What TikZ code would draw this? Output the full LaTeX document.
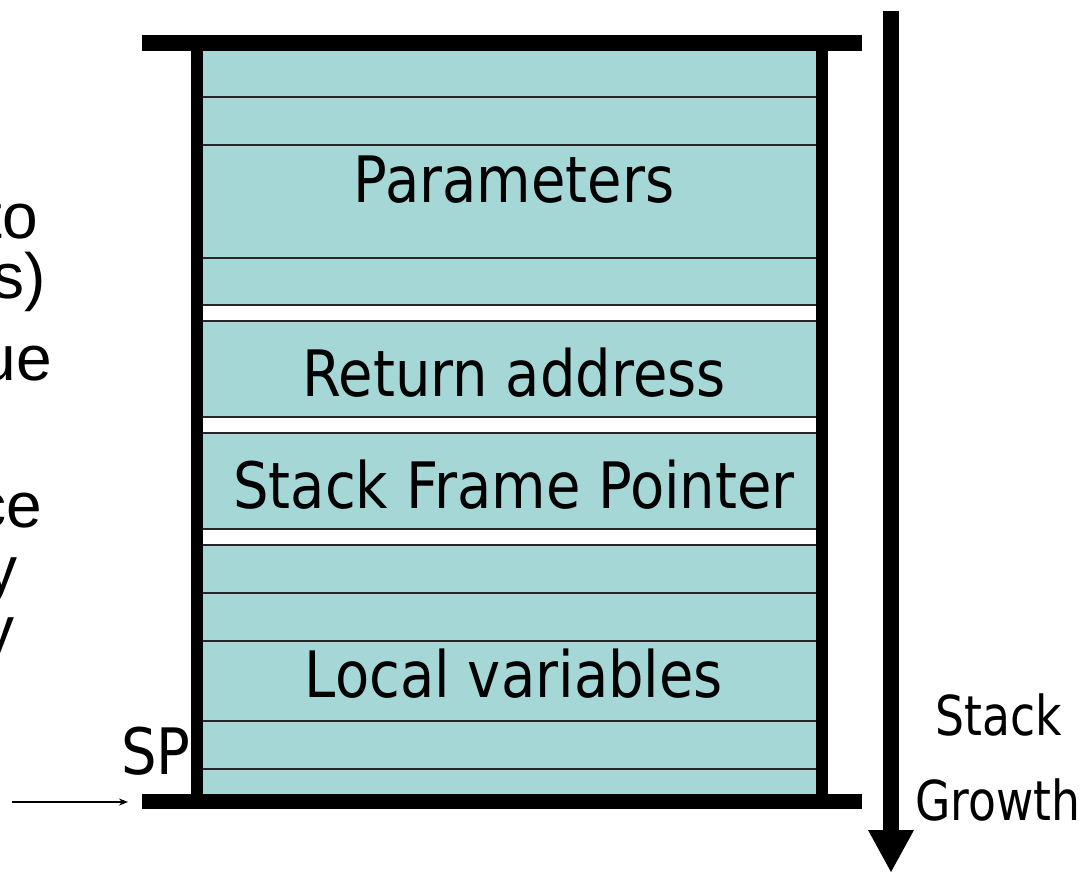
\documentclass[tikz,border=0pt]{standalone}
\usepackage{fontspec}
\usetikzlibrary{arrows.meta}
\newfontfamily\tah[FakeStretch=0.875]{DejaVu Sans}
\newfontfamily\tahs[FakeStretch=0.83]{DejaVu Sans}
\newfontfamily\ari{Liberation Sans}
\definecolor{cell}{RGB}{166,215,215}
\begin{document}
\begin{tikzpicture}[x=1pt,y=-1pt,
  lbl/.style={font=\tah\fontsize{64pt}{70pt}\selectfont, inner sep=0pt, anchor=base},
  sidelbl/.style={font=\tahs\fontsize{55pt}{60pt}\selectfont, inner sep=0pt, anchor=base west},
  frag/.style={font=\ari\fontsize{64pt}{70pt}\selectfont, inner sep=0pt, anchor=base east},
  divider/.style={line width=1.5pt, draw=black!85},
  bar/.style={fill=black},
  cellfill/.style={fill=cell}]
\useasboundingbox (0,0) rectangle (1086,872);
\clip (0,0) rectangle (1086,872);
% left-hand text fragments, cut at the picture's edge as in the reference
\node[frag] (f1) at (38,238) {to};
\node[frag] (f2) at (46,298) {s)};
\node[frag] (f3) at (52,380) {ue};
\node[frag] (f4) at (42,527) {ce};
\node[frag] (f5) at (18,591) {y};
\node[frag] (f6) at (15,651) {y};
% cell groups
\fill[cellfill] (203,51) rectangle (816,305);
\fill[cellfill] (203,321) rectangle (816,417);
\fill[cellfill] (203,433) rectangle (816,529);
\fill[cellfill] (203,545) rectangle (816,794);
\foreach \yy in {97,145,258,305,321,417,433,529,545,593,641,721,769}
  \draw[divider] (203,\yy) -- (816,\yy);
% frame bars
\fill[bar] (142,35) rectangle (862,51);
\fill[bar] (142,794) rectangle (862,809);
\fill[bar] (191,35) rectangle (203,809);
\fill[bar] (816,35) rectangle (828,809);
% labels
\node[lbl] (par) at (514,202) {Parameters};
\node[lbl] (ret) at (514,396) {Return address};
\node[lbl] (sfp) at (514,508) {Stack Frame Pointer};
\node[lbl] (loc) at (514,697) {Local variables};
\node[lbl, anchor=base west] (sp) at (121,774) {SP};
% growth arrow
\fill[bar] (883,11) rectangle (899,831);
\fill[bar] (868,830) -- (914,830) -- (891,872) -- cycle;
\node[sidelbl] (stk) at (935,735) {Stack};
\node[sidelbl] (grw) at (915,820) {Growth};
% SP pointer
\coordinate (spa) at (12,802);
\coordinate (spb) at (128,802);
\draw[line width=1.5pt, -{Stealth[length=9pt,width=7pt]}] (spa) -- (spb);
\end{tikzpicture}
\end{document}
